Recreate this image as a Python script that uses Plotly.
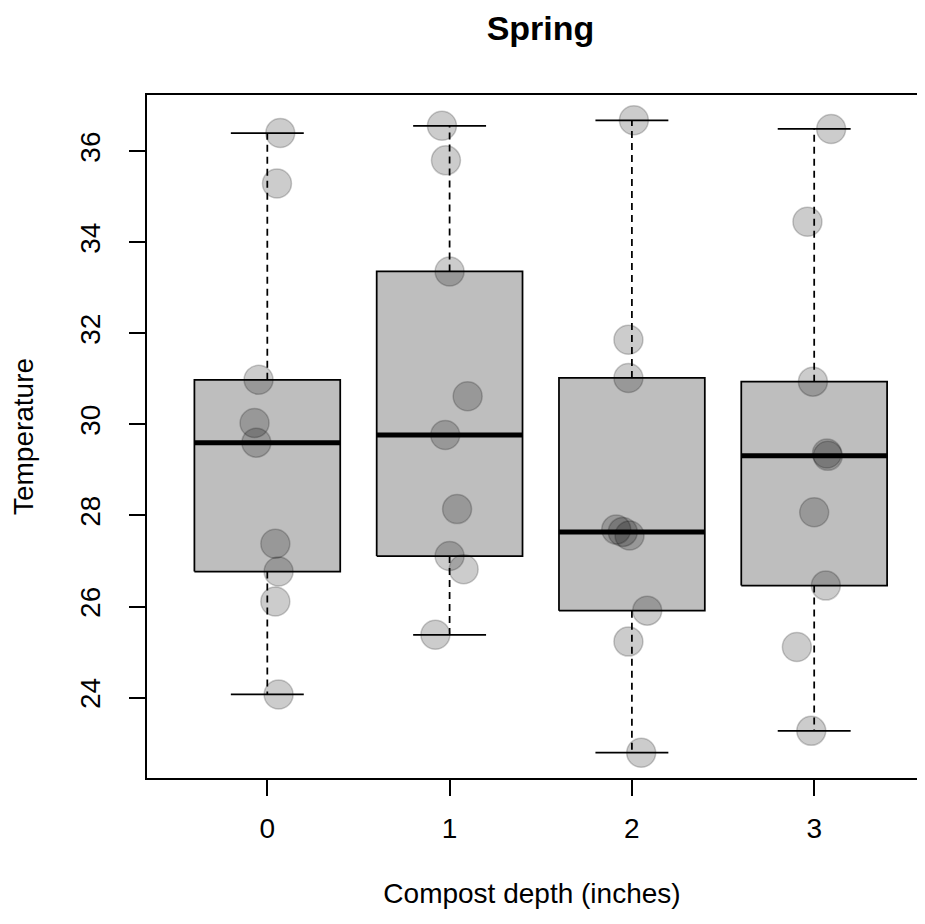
import math
import plotly.graph_objects as go

# ---- data ----
depths = [0, 1, 2, 3]
tick_labels = ["0", "1", "2", "3"]
temp_d0 = [36.40, 35.29, 30.98, 30.03, 29.60, 27.38, 26.77, 26.11, 24.07]
temp_d1 = [36.56, 35.80, 33.36, 30.62, 29.77, 28.14, 27.11, 26.82, 25.38]
temp_d2 = [36.68, 31.86, 31.02, 27.69, 27.64, 27.56, 25.91, 25.23, 22.79]
temp_d3 = [36.49, 34.45, 30.94, 29.36, 29.31, 28.07, 26.46, 25.11, 23.27]
jitter_d0 = [0.071, 0.053, -0.048, -0.070, -0.060, 0.044, 0.062, 0.044, 0.062]
jitter_d1 = [-0.042, -0.020, 0.000, 0.099, -0.024, 0.041, 0.000, 0.077, -0.078]
jitter_d2 = [0.011, -0.019, -0.019, -0.086, -0.050, -0.013, 0.084, -0.019, 0.051]
jitter_d3 = [0.093, -0.037, -0.007, 0.070, 0.075, 0.000, 0.064, -0.095, -0.016]
y_ticks = [24, 26, 28, 30, 32, 34, 36]

groups = [temp_d0, temp_d1, temp_d2, temp_d3]
jitters = [jitter_d0, jitter_d1, jitter_d2, jitter_d3]

FONT = "Liberation Sans, Arial, sans-serif"
BOX_HALF = 0.4
STAPLE_HALF = 0.2


def fivenum(vals):
    x = sorted(vals)
    n = len(x)
    n4 = math.floor((n + 3) / 2) / 2
    d = [1, n4, (n + 1) / 2, n + 1 - n4, n]
    return [0.5 * (x[math.floor(i) - 1] + x[math.ceil(i) - 1]) for i in d]


fig = go.Figure()

for c, vals in zip(depths, groups):
    mn, q1, med, q3, mx = fivenum(vals)
    iqr = q3 - q1
    lo = min(v for v in vals if v >= q1 - 1.5 * iqr)
    hi = max(v for v in vals if v <= q3 + 1.5 * iqr)
    # box fill + border
    fig.add_trace(go.Scatter(
        x=[c - BOX_HALF, c + BOX_HALF, c + BOX_HALF, c - BOX_HALF, c - BOX_HALF],
        y=[q1, q1, q3, q3, q1], mode="lines", fill="toself",
        fillcolor="#BEBEBE", line=dict(color="black", width=1.75),
        hoverinfo="skip", showlegend=False))
    # whiskers (dashed)
    for a, b in [(q3, hi), (q1, lo)]:
        fig.add_trace(go.Scatter(
            x=[c, c], y=[a, b], mode="lines",
            line=dict(color="black", width=1.75, dash="7px,5px"),
            hoverinfo="skip", showlegend=False))
    # staples
    for v in [hi, lo]:
        fig.add_trace(go.Scatter(
            x=[c - STAPLE_HALF, c + STAPLE_HALF], y=[v, v], mode="lines",
            line=dict(color="black", width=1.75),
            hoverinfo="skip", showlegend=False))
    # median
    fig.add_trace(go.Scatter(
        x=[c - BOX_HALF, c + BOX_HALF], y=[med, med], mode="lines",
        line=dict(color="black", width=5),
        hoverinfo="skip", showlegend=False))

# jittered points
for c, vals, jit in zip(depths, groups, jitters):
    fig.add_trace(go.Scatter(
        x=[c + j for j in jit], y=vals, mode="markers",
        marker=dict(size=29, color="rgba(0,0,0,0.2)",
                    line=dict(color="rgba(0,0,0,0.2)", width=1.5)),
        showlegend=False))

all_vals = [v for g in groups for v in g]
ymin, ymax = min(all_vals), max(all_vals)
pad = 0.04 * (ymax - ymin)

fig.update_layout(
    width=909, height=908,
    margin=dict(l=139, r=0, t=87, b=138, pad=0),
    plot_bgcolor="white", paper_bgcolor="white",
    font=dict(family=FONT, size=28, color="black"),
    title=dict(text="<b>Spring</b>", x=0.511, xanchor="center", xref="paper",
               y=1 - 20 / 908, yanchor="middle", yref="container",
               font=dict(family=FONT, size=34, color="black")),
    xaxis=dict(range=[-0.66, 3.564], tickvals=depths, ticktext=tick_labels,
               showgrid=False, zeroline=False, showline=True, mirror=True,
               linecolor="black", linewidth=1.5,
               ticks="outside", ticklen=16, tickwidth=1.5, tickcolor="black",
               ticklabelstandoff=9,
               title=dict(text="Compost depth (inches)", standoff=40,
                          font=dict(size=28)),
               tickfont=dict(size=28)),
    yaxis=dict(range=[ymin - pad, ymax + pad], tickvals=y_ticks,
               showgrid=False, zeroline=False, showline=True, mirror=False,
               linecolor="black", linewidth=1.5,
               ticks="outside", ticklen=16, tickwidth=1.5, tickcolor="black",
               tickangle=-90, ticklabelstandoff=18,
               title=dict(text="Temperature", standoff=38,
                          font=dict(size=28)),
               tickfont=dict(size=28)),
)

fig.write_html("out.html")
